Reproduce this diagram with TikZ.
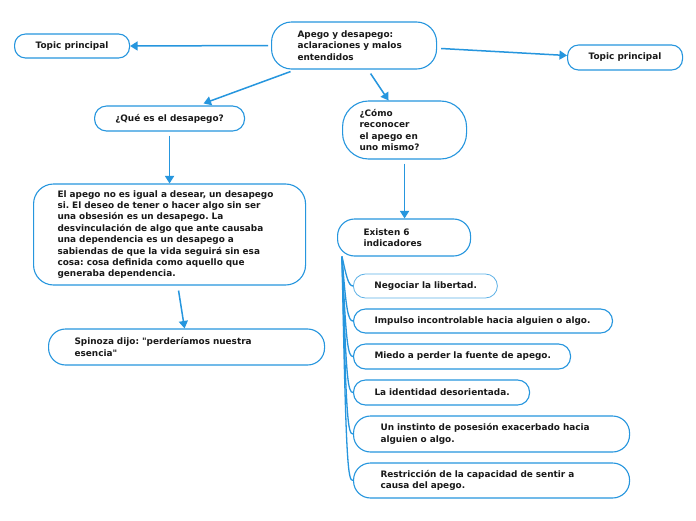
\documentclass[tikz,border=0pt]{standalone}
\usepackage{fontspec}
\setmainfont{DejaVu Sans}
\usetikzlibrary{arrows.meta,calc}
\definecolor{mblue}{RGB}{38,150,222}
\definecolor{mtext}{RGB}{25,25,25}
\frenchspacing
\begin{document}
\begin{tikzpicture}[x=1pt,y=-1pt,
  box/.style={draw=mblue, line width=1.1pt, fill=white, font=\bfseries\fontsize{8.9}{11.4}\selectfont\frenchspacing, inner ysep=0pt, anchor=west, text=mtext},
  conn/.style={draw=mblue, line width=1.5pt, -{Triangle[length=7.5pt,width=9pt]}},
  branch/.style={draw=mblue, line width=1.3pt}]
\useasboundingbox[fill=white] (0,0) rectangle (696,520);

\node[box, rounded corners=20pt, minimum width=165pt, minimum height=47pt, inner xsep=26pt, text width=113pt, align=left] (main) at (271,45.5) {Apego y desapego:\\aclaraciones y malos\\entendidos};
\node[box, rounded corners=11pt, minimum width=115pt, minimum height=24pt, align=center] (tl) at (14,46) {Topic principal};
\node[box, rounded corners=11pt, minimum width=115pt, minimum height=25pt, align=center] (tr) at (567,57.5) {Topic principal};
\node[box, rounded corners=12pt, minimum width=150pt, minimum height=25pt, align=center] (que) at (94,118.5) {¿Qué es el desapego?};
\node[box, rounded corners=26pt, minimum width=124pt, minimum height=58pt, inner xsep=17pt, text width=90pt, align=left] (como) at (342,130) {¿Cómo\\reconocer\\el apego en\\uno mismo?};
\node[box, rounded corners=20pt, minimum width=272pt, minimum height=101pt, inner xsep=24pt, text width=224pt, align=left] (big) at (33,234.5) {\mbox{El apego no es igual a desear, un desapego}\\\mbox{si. El deseo de tener o hacer algo sin ser}\\una obsesión es un desapego. La\\\mbox{desvinculación de algo que ante causaba}\\una dependencia es un desapego a\\\mbox{sabiendas de que la vida seguirá sin esa}\\cosa: cosa definida como aquello que\\generaba dependencia.};
\node[box, rounded corners=17pt, minimum width=276pt, minimum height=36pt, inner xsep=26pt, text width=224pt, align=left] (spin) at (48,347) {Spinoza dijo: \textquotedbl perderíamos nuestra\\esencia\textquotedbl};
\node[box, rounded corners=17pt, minimum width=133pt, minimum height=37pt, inner xsep=26pt, text width=81pt, align=left] (ex) at (337,237.5) {Existen 6\\indicadores};

\node[box, draw=mblue!75, line width=0.8pt, rounded corners=12pt, minimum width=144pt, minimum height=24pt, inner xsep=21pt, text width=102pt, align=left] (c1) at (353,286) {\mbox{Negociar la libertad.}};
\node[box, rounded corners=12pt, minimum width=259pt, minimum height=24pt, inner xsep=21pt, text width=217pt, align=left] (c2) at (353,321) {\mbox{Impulso incontrolable hacia alguien o algo.}};
\node[box, rounded corners=12pt, minimum width=217pt, minimum height=25pt, inner xsep=21pt, text width=175pt, align=left] (c3) at (353,356.5) {\mbox{Miedo a perder la fuente de apego.}};
\node[box, rounded corners=12pt, minimum width=176pt, minimum height=25pt, inner xsep=21pt, text width=134pt, align=left] (c4) at (353,392.5) {\mbox{La identidad desorientada.}};
\node[box, rounded corners=17pt, minimum width=276pt, minimum height=36pt, inner xsep=27pt, text width=222pt, align=left] (c5) at (353,434) {\mbox{Un instinto de posesión exacerbado hacia}\\alguien o algo.};
\node[box, rounded corners=17pt, minimum width=276pt, minimum height=35pt, inner xsep=27pt, text width=222pt, align=left] (c6) at (353,480.5) {\mbox{Restricción de la capacidad de sentir a}\\causa del apego.};

\draw[conn, shorten <=3pt] (main.west) -- (tl.east);
\draw[conn] ([xshift=4pt,yshift=-3pt]main.east) -- ([yshift=2pt]tr.west);
\draw[conn] ([xshift=-63.5pt,yshift=-2pt]main.south) -- ([xshift=34pt,yshift=2pt]que.north);
\draw[conn] ([xshift=16.5pt,yshift=-4pt]main.south) -- ([xshift=-16pt]como.north);
\draw[conn, shorten <=4pt] (que.south) -- (big.north);
\draw[conn, shorten <=4pt] (como.south) -- ([xshift=0.5pt]ex.north);
\draw[conn] ([xshift=9pt,yshift=-5pt]big.south) -- ([xshift=-2pt]spin.north);

\coordinate (exs) at ([xshift=5pt]ex.south west);
\foreach \c in {c1,c2,c3,c4,c5,c6}
  \draw[branch] (exs) .. controls ([xshift=-7pt,yshift=12pt]\c.west) and ([xshift=-5pt]\c.west) .. (\c.west);
\end{tikzpicture}
\end{document}
